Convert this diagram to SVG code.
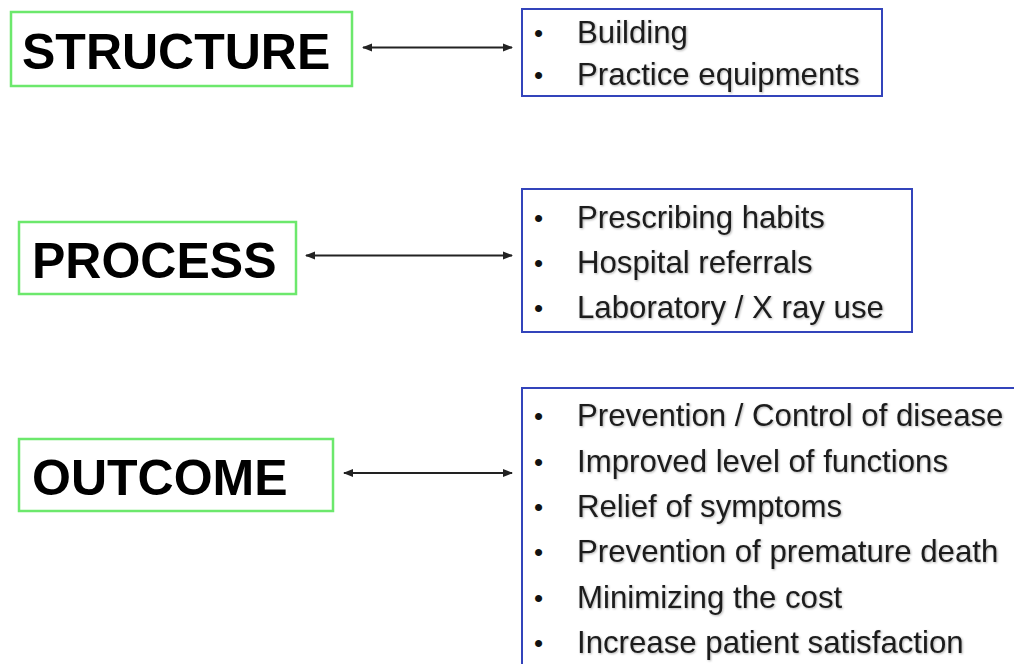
<svg xmlns="http://www.w3.org/2000/svg" width="1014" height="664" viewBox="0 0 1014 664">
<defs>
<style>
.g{fill:#fff;stroke:#6ce86c;stroke-width:2.5}
.b{fill:#fff;stroke:#3344bb;stroke-width:2}
.h{font-family:"Liberation Sans",Arial,sans-serif;font-weight:bold;font-size:50px;fill:#000}
.t{font-family:"Liberation Sans",Arial,sans-serif;font-size:31.2px;fill:#1c1c1c;filter:url(#sh)}
.d{font-family:"Liberation Sans",Arial,sans-serif;font-size:26px;fill:#111}
.c{stroke:#222;stroke-width:2;fill:none;marker-start:url(#a);marker-end:url(#a)}
</style>
<filter id="sh" x="-5%" y="-20%" width="110%" height="150%">
<feDropShadow dx="1" dy="1" stdDeviation="0.8" flood-color="#000" flood-opacity="0.3"/>
</filter>
<marker id="a" viewBox="0 0 10 10" refX="9" refY="5" markerWidth="5" markerHeight="5" orient="auto-start-reverse" markerUnits="strokeWidth">
<path d="M0,1 L10,5 L0,9 Z" fill="#222"/>
</marker>
</defs>
<rect width="1014" height="664" fill="#fff"/>
<g id="connectors">
<line class="c" x1="363" y1="47.5" x2="512" y2="47.5"/>
<line class="c" x1="306" y1="255.5" x2="512" y2="255.5"/>
<line class="c" x1="344" y1="473" x2="512" y2="473"/>
</g>
<g id="structure">
<rect class="g" x="11" y="12" width="341" height="74"/>
<text class="h" x="22" y="69">STRUCTURE</text>
</g>
<g id="process">
<rect class="g" x="19" y="222" width="277" height="72"/>
<text class="h" x="32" y="278">PROCESS</text>
</g>
<g id="outcome">
<rect class="g" x="19" y="439" width="314" height="72"/>
<text class="h" x="32" y="495">OUTCOME</text>
</g>
<g id="structure-list">
<rect class="b" x="522" y="9" width="360" height="87"/>
<text class="d" x="534" y="42">•</text><text class="t" x="577" y="43">Building</text>
<text class="d" x="534" y="84">•</text><text class="t" x="577" y="85">Practice equipments</text>
</g>
<g id="process-list">
<rect class="b" x="522" y="189" width="390" height="143"/>
<text class="d" x="534" y="227">•</text><text class="t" x="577" y="228">Prescribing habits</text>
<text class="d" x="534" y="272">•</text><text class="t" x="577" y="273">Hospital referrals</text>
<text class="d" x="534" y="317">•</text><text class="t" x="577" y="318">Laboratory / X ray use</text>
</g>
<g id="outcome-list">
<rect class="b" x="522" y="388" width="520" height="300"/>
<text class="d" x="534" y="425">•</text><text class="t" x="577" y="426">Prevention / Control of disease</text>
<text class="d" x="534" y="471">•</text><text class="t" x="577" y="472">Improved level of functions</text>
<text class="d" x="534" y="516">•</text><text class="t" x="577" y="517">Relief of symptoms</text>
<text class="d" x="534" y="561">•</text><text class="t" x="577" y="562">Prevention of premature death</text>
<text class="d" x="534" y="607">•</text><text class="t" x="577" y="608">Minimizing the cost</text>
<text class="d" x="534" y="652">•</text><text class="t" x="577" y="653">Increase patient satisfaction</text>
</g>
</svg>
